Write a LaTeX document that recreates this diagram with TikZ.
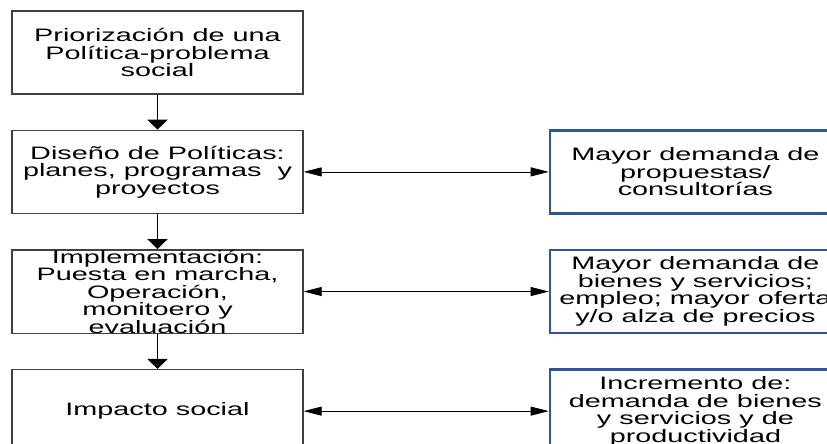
\documentclass[tikz,border=0pt]{standalone}
\usepackage{fontspec}
\setmainfont{Liberation Sans}[FakeStretch=1.6]
\usepackage{tikz}
\usetikzlibrary{positioning, arrows.meta}
\definecolor{boxblue}{RGB}{47,85,151}
\tikzset {
    node distance=35pt,
    every node/.style={font=\fontsize{18}{17.5}\selectfont, align=center},
    etapa/.style={draw=black!75, line width=1.4pt, minimum width=291pt, minimum height=83pt, inner sep=0pt},
    efecto/.style={draw=boxblue, line width=2.4pt, minimum width=291pt, minimum height=83pt, inner sep=0pt},
    baja/.style={-{Triangle[length=10pt, width=20pt]}, line width=1.6pt},
    enlace/.style={{Triangle[length=18pt, width=9pt]}-{Triangle[length=18pt, width=9pt]}, line width=0.8pt}
}

\begin{document}
\begin{tikzpicture}[x=1pt, y=1pt]
                        \clip (0,0) rectangle (827,-444);

                        \node[etapa] (p1) at (157.5,-52.5) {Priorización de una\\Política-problema\\social};
                        \node[etapa, below=of p1] (d2) {Diseño de Políticas:\\planes, programas\ \ y\\proyectos};
                        \node[etapa, below=of d2] (i3) {Implementación:\\Puesta en marcha,\\Operación,\\monitoero y\\evaluación};
                        \node[etapa, below=of i3] (s4) {Impacto social};

                        \node[efecto, right=245pt of d2] (m2) {Mayor demanda de\\propuestas/\\consultorías};
                        \node[efecto, right=245pt of i3] (m3) {Mayor demanda de\\bienes y servicios;\\empleo; mayor oferta\\y/o alza de precios};
                        \node[efecto, right=245pt of s4] (m4) {Incremento de:\\demanda de bienes\\y servicios y de\\productividad};

                        \draw[baja]
                        (p1) edge (d2)
                        (d2) edge (i3)
                        (i3) edge (s4);

                        \draw[enlace]
                        (d2) edge (m2)
                        (i3) edge (m3)
                        (s4) edge (m4);
                    \end{tikzpicture}
\end{document}
